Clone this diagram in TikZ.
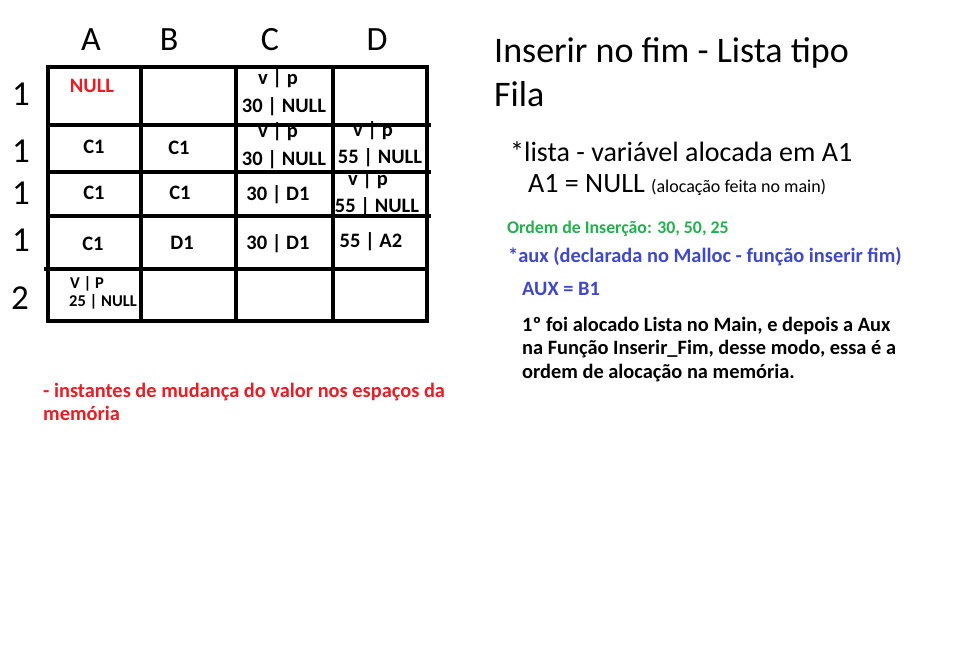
\documentclass[tikz,border=0pt]{standalone}
\usepackage{fontspec}
\setmainfont{Carlito}
\definecolor{pred}{RGB}{237,28,36}
\definecolor{pgreen}{RGB}{34,177,76}
\definecolor{pblue}{RGB}{63,72,204}
\begin{document}
\begin{tikzpicture}[x=1pt,y=-1pt,
  head/.style={font=\fontsize{34}{38}\selectfont,anchor=base,inner sep=0},
  rowlab/.style={font=\fontsize{35}{38}\selectfont,anchor=base,inner sep=0},
  cell/.style={font=\fontsize{20.5}{22}\selectfont\bfseries,anchor=base,inner sep=0},
  small/.style={font=\fontsize{16.5}{18}\selectfont\bfseries,anchor=base,inner sep=0},
  grid/.style={line width=4.5pt,black},
  txt/.style={anchor=base west,inner sep=0},
  big/.style={txt,font=\fontsize{36}{40}\selectfont},
  mid/.style={txt,font=\fontsize{28}{32}\selectfont},
  bold/.style={txt,font=\fontsize{20.4}{24}\selectfont\bfseries}]
\fill[white] (0,0) rectangle (972,652);
\useasboundingbox (0,0) rectangle (972,652);
% headers
\node[head] (hA) at (91,51) {A};
\node[head] (hB) at (169,51) {B};
\node[head] (hC) at (270,51) {C};
\node[head] (hD) at (377,51) {D};
% row labels
\node[rowlab] (r1) at (21,106) {1};
\node[rowlab] (r2) at (21,163) {1};
\node[rowlab] (r3) at (21,205) {1};
\node[rowlab] (r4) at (21,252) {1};
\node[rowlab] (r5) at (20,310) {2};
% row 1
\node[cell,text=pred] (a1) at (92,93) {NULL};
\node[cell] (c1a) at (278,85) {v | p};
\node[cell] (c1b) at (284,113) {30 | NULL};
% row 2
\node[cell] (a2) at (94,154) {C1};
\node[cell] (b2) at (179,155) {C1};
\node[cell] (c2a) at (278,138) {v | p};
\node[cell] (c2b) at (284,166) {30 | NULL};
\node[cell] (d2a) at (373,137) {v | p};
\node[cell] (d2b) at (380,164) {55 | NULL};
% row 3
\node[cell] (a3) at (94,200) {C1};
\node[cell] (b3) at (180,200) {C1};
\node[cell] (c3) at (278,201) {30 | D1};
\node[cell] (d3a) at (368,186) {v | p};
\node[cell] (d3b) at (377,213) {55 | NULL};
% row 4
\node[cell] (a4) at (93,251) {C1};
\node[cell] (b4) at (182,250) {D1};
\node[cell] (c4) at (278,250) {30 | D1};
\node[cell] (d4) at (371,248) {55 | A2};
% row 5
\node[small] (a5a) at (87,289) {V | P};
\node[small] (a5b) at (103,307) {25 | NULL};
% grid
\draw[grid] (48,67) rectangle (427,321);
\draw[grid] (141,67) -- (141,321);
\draw[grid] (236,67) -- (236,321);
\draw[grid] (333,67) -- (333,321);
\draw[grid] (48,125) -- (431,125);
\draw[grid] (48,172) -- (431,172);
\draw[grid] (48,216) -- (431,216);
\draw[grid] (44,269) -- (427,269);
% right texts
\node[big] (t1) at (494,63) {Inserir no fim - Lista tipo};
\node[big] (t2) at (494,107) {Fila};
\node[mid] (l1) at (510,162) {*lista - variável alocada em A1};
\node[mid] (l2) at (528,193) {A1 = NULL {\fontsize{18}{20}\selectfont(alocação feita no main)}};
\node[txt,font=\fontsize{17.8}{20}\selectfont\bfseries,text=pgreen] (ord) at (507,234) {Ordem de Inserção: 30, 50, 25};
\node[bold,text=pblue] (aux) at (508,263) {*aux (declarada no Malloc - função inserir fim)};
\node[bold,text=pblue] (auxb) at (522,296) {AUX = B1};
\node[bold] (p1) at (522,332) {1º foi alocado Lista no Main, e depois a Aux};
\node[bold] (p2) at (522,355) {na Função Inserir\_Fim, desse modo, essa é a};
\node[bold] (p3) at (522,378) {ordem de alocação na memória.};
\node[bold,text=pred] (m1) at (43,397) {- instantes de mudança do valor nos espaços da};
\node[bold,text=pred] (m2) at (43,420) {memória};
\end{tikzpicture}
\end{document}
